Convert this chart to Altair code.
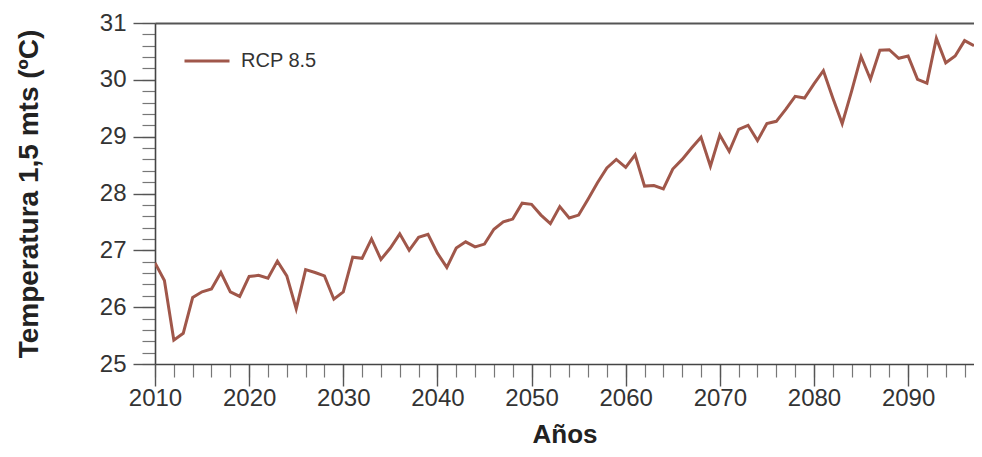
import altair as alt
import pandas as pd

years = list(range(2010, 2098))
temps = [
    26.78, 26.47, 25.42, 25.54, 26.17, 26.27, 26.32, 26.61, 26.27, 26.19,
    26.54, 26.56, 26.51, 26.81, 26.55, 25.97, 26.66, 26.61, 26.55, 26.14,
    26.27, 26.88, 26.86, 27.20, 26.84, 27.04, 27.29, 27.00, 27.23, 27.28,
    26.95, 26.70, 27.04, 27.15, 27.06, 27.11, 27.37, 27.50, 27.55, 27.83,
    27.81, 27.62, 27.47, 27.77, 27.57, 27.62, 27.90, 28.19, 28.45, 28.60,
    28.46, 28.68, 28.13, 28.14, 28.08, 28.43, 28.60, 28.80, 28.99, 28.48,
    29.03, 28.74, 29.13, 29.20, 28.93, 29.23, 29.27, 29.48, 29.71, 29.68,
    29.93, 30.16, 29.68, 29.23, 29.80, 30.41, 30.01, 30.52, 30.53, 30.38,
    30.42, 30.01, 29.94, 30.73, 30.30, 30.42, 30.69, 30.60,
]
series = ["RCP 8.5"] * len(years)

x_major = list(range(2010, 2091, 10))
x_minor = list(range(2010, 2098, 2))
y_major = [25, 26, 27, 28, 29, 30, 31]
y_minor = [round(25 + 0.2 * i, 1) for i in range(31)]

df = pd.DataFrame({"Año": years, "Temp": temps, "Serie": series})

FONT = "Liberation Sans"
xscale = alt.Scale(domain=[2010, 2097], nice=False, zero=False)
yscale = alt.Scale(domain=[25, 31], nice=False, zero=False)

minor = alt.Chart(df).mark_line(opacity=0).encode(
    x=alt.X("Año:Q", scale=xscale,
            axis=alt.Axis(values=x_minor, labels=False, tickSize=13, domain=False,
                          title=None, orient="bottom", grid=False,
                          tickColor="#777", tickWidth=1.2)),
    y=alt.Y("Temp:Q", scale=yscale,
            axis=alt.Axis(values=y_minor, labels=False, tickSize=13, domain=False,
                          title=None, orient="left", grid=False,
                          tickColor="#777", tickWidth=1.2)),
)

frame = alt.Chart(df).mark_line(opacity=0).encode(
    x=alt.X("Año:Q", scale=xscale,
            axis=alt.Axis(orient="top", ticks=False, labels=False, title=None,
                          grid=False, domainColor="#555", domainWidth=2)),
    y=alt.Y("Temp:Q", scale=yscale, axis=None),
)

line = alt.Chart(df).mark_line(strokeWidth=3, clip=True).encode(
    x=alt.X("Año:Q", scale=xscale,
            axis=alt.Axis(values=x_major, format="d", tickSize=22, title="Años",
                          orient="bottom", grid=False, labelFontSize=24,
                          labelPadding=0, labelFlush=False, titleFontSize=26,
                          titlePadding=11, titleFontWeight="bold",
                          labelFont=FONT, titleFont=FONT,
                          labelColor="#333", titleColor="#222",
                          tickColor="#555", tickWidth=1.4,
                          domainColor="#444", domainWidth=1.6)),
    y=alt.Y("Temp:Q", scale=yscale,
            axis=alt.Axis(values=y_major, tickSize=22, title="Temperatura 1,5 mts (ºC)",
                          orient="left", grid=False, labelFontSize=24,
                          labelPadding=7, labelFlush=False, titleFontSize=28,
                          titlePadding=56, titleFontWeight="bold",
                          labelFont=FONT, titleFont=FONT,
                          labelColor="#333", titleColor="#222",
                          tickColor="#555", tickWidth=1.4,
                          domainColor="#444", domainWidth=1.6)),
    color=alt.Color("Serie:N", scale=alt.Scale(range=["#a0574a"]),
                    legend=alt.Legend(orient="none", legendX=28, legendY=14,
                                      title=None, symbolType="stroke",
                                      symbolSize=2025, symbolStrokeWidth=3,
                                      labelFontSize=20, labelFont=FONT,
                                      labelColor="#333", labelOffset=10,
                                      padding=0)),
)

chart = alt.layer(minor, frame, line).resolve_axis(
    x="independent", y="independent"
).properties(
    width=819, height=341,
    autosize=alt.AutoSizeParams(type="none"),
    padding={"left": 147, "top": 15, "right": 0, "bottom": 85},
).configure_view(
    strokeWidth=0
)

chart.save("out.html", embed_options={"renderer": "svg", "actions": False})
